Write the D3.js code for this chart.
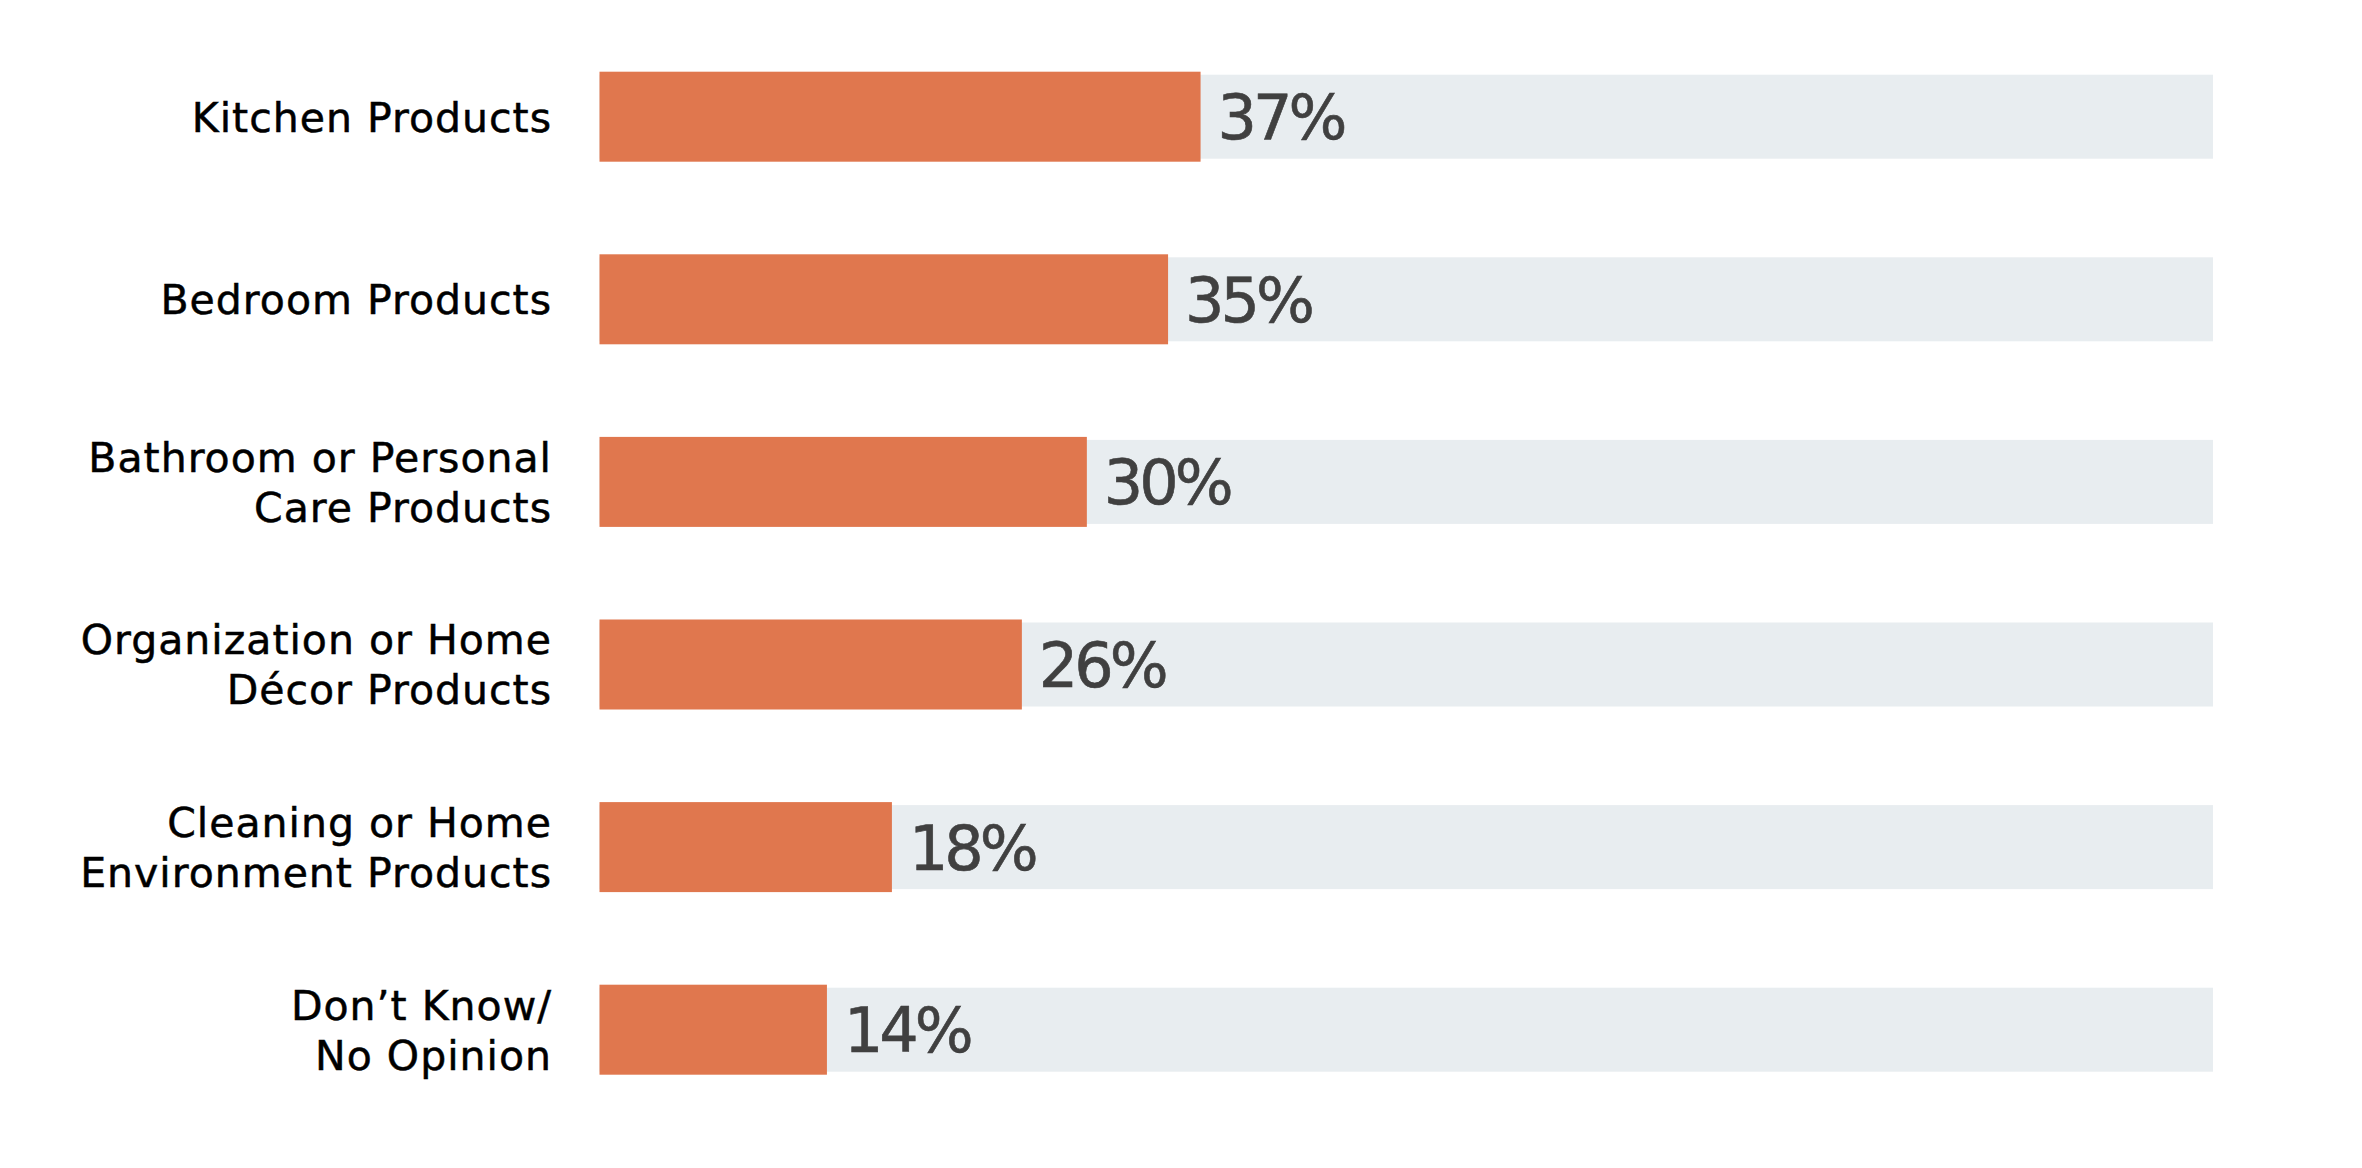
<!DOCTYPE html>
<html>
<head>
<meta charset="utf-8">
<script src="https://cdn.jsdelivr.net/npm/d3@7"></script>
<style>
  html, body { margin: 0; padding: 0; background: #ffffff; }
  svg { display: block; }
</style>
</head>
<body>
<svg id="chart" width="2362" height="1168"></svg>
<script>
// ---- Data ----
const categories = [
  "Kitchen Products",
  "Bedroom Products",
  "Bathroom or Personal\nCare Products",
  "Organization or Home\nDécor Products",
  "Cleaning or Home\nEnvironment Products",
  "Don’t Know/\nNo Opinion"
];
const values = [37, 35, 30, 26, 18, 14];
const valueLabels = ["37%", "35%", "30%", "26%", "18%", "14%"];

// ---- Layout / style ----
const W = 2362, H = 1168;
const X0 = 599.5, X100 = 2224, TRACK_RIGHT = 2213;
const ROW_FIRST = 116.7, ROW_LAST = 1029.7;
const BAR_H = 90, TRACK_H = 84;
const ORANGE = "#E0774E", TRACK = "#E8EDF0";
const LABEL_FONT = "'DejaVu Sans', sans-serif";
const LABEL_SIZE = 41, LABEL_CAP = 0.729 * LABEL_SIZE, LINE_GAP = 50;
const VALUE_SIZE = 62, VALUE_CAP = 0.729 * VALUE_SIZE;

const svg = d3.select("#chart");
svg.append("rect").attr("width", W).attr("height", H).attr("fill", "#ffffff");

const x = d3.scaleLinear().domain([0, 100]).range([X0, X100]);
const y = d3.scalePoint().domain(categories).range([ROW_FIRST, ROW_LAST]);

const data = categories.map((c, i) => ({ cat: c, value: values[i], label: valueLabels[i] }));

const rows = svg.selectAll("g.row").data(data).join("g").attr("class", "row");

// background track
rows.append("rect")
  .attr("x", x(0))
  .attr("y", d => y(d.cat) - TRACK_H / 2)
  .attr("width", TRACK_RIGHT - x(0))
  .attr("height", TRACK_H)
  .attr("fill", TRACK);

// value bars
rows.append("rect")
  .attr("x", x(0))
  .attr("y", d => y(d.cat) - BAR_H / 2)
  .attr("width", d => x(d.value) - x(0))
  .attr("height", BAR_H)
  .attr("fill", ORANGE);

// value labels
rows.append("text")
  .attr("x", d => x(d.value) + 17)
  .attr("y", d => y(d.cat) + VALUE_CAP / 2)
  .attr("font-family", LABEL_FONT)
  .attr("font-size", VALUE_SIZE)
  .attr("letter-spacing", "-4px")
  .attr("fill", "#404040")
  .attr("stroke", "#404040")
  .attr("stroke-width", 0.6)
  .text(d => d.label);

// category labels (right aligned, possibly two lines)
rows.each(function(d) {
  const lines = d.cat.split("\n");
  const cy = y(d.cat);
  const firstBase = cy - (lines.length - 1) * LINE_GAP / 2 + LABEL_CAP / 2;
  const t = d3.select(this).append("text")
    .attr("text-anchor", "end")
    .attr("font-family", LABEL_FONT)
    .attr("font-size", LABEL_SIZE)
    .attr("letter-spacing", "1px")
    .attr("fill", "#000000")
    .attr("stroke", "#000000")
    .attr("stroke-width", 0.5);
  lines.forEach((ln, i) => {
    t.append("tspan")
      .attr("x", 552)
      .attr("y", firstBase + i * LINE_GAP)
      .text(ln);
  });
});
</script>
</body>
</html>
